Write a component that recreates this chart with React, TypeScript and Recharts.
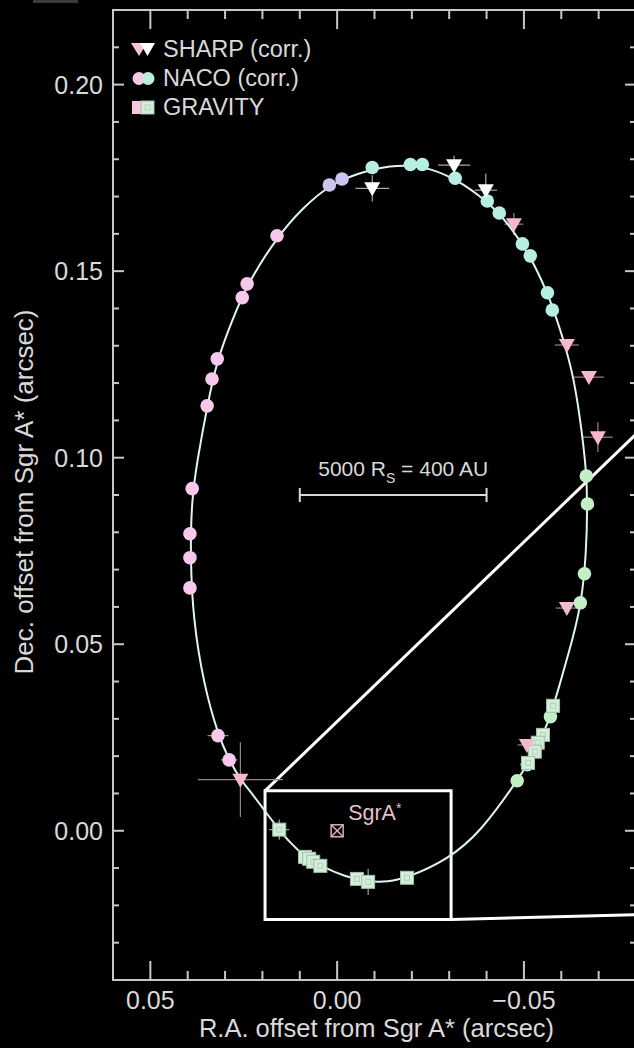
import { ScatterChart, Scatter, XAxis, YAxis, ErrorBar, ReferenceArea, ReferenceLine, ReferenceDot } from 'recharts';

const FONT = '"Liberation Sans", Arial, Helvetica, sans-serif';
const AXIS = '#c8c8c8';
const TEXT = '#d9d9d9';
const ORBIT = '#dff5ef';
const PLOT_W = 523;
const PLOT_H = 970;

// best-fit orbit, read along the drawn ellipse (R.A., Dec. in arcsec)
const orbit = [
  { ra: -0.0187, dec: -0.0126 }, { ra: -0.0136, dec: -0.0137 }, { ra: -0.0083, dec: -0.0137 },
  { ra: -0.0021, dec: -0.0123 }, { ra: 0.0045, dec: -0.0094 }, { ra: 0.0086, dec: -0.007 },
  { ra: 0.0126, dec: -0.0032 }, { ra: 0.0155, dec: 0.0003 }, { ra: 0.019, dec: 0.0048 },
  { ra: 0.0227, dec: 0.0099 }, { ra: 0.0259, dec: 0.0137 }, { ra: 0.0289, dec: 0.019 },
  { ra: 0.0318, dec: 0.0254 }, { ra: 0.0358, dec: 0.0396 }, { ra: 0.0385, dec: 0.0565 },
  { ra: 0.0393, dec: 0.0726 }, { ra: 0.039, dec: 0.0886 }, { ra: 0.0374, dec: 0.0994 },
  { ra: 0.0348, dec: 0.1138 }, { ra: 0.0321, dec: 0.1264 }, { ra: 0.0281, dec: 0.1368 },
  { ra: 0.0241, dec: 0.1465 }, { ra: 0.016, dec: 0.1593 }, { ra: 0.0091, dec: 0.1671 },
  { ra: 0.0021, dec: 0.173 }, { ra: -0.0053, dec: 0.1762 }, { ra: -0.0142, dec: 0.1784 },
  { ra: -0.0227, dec: 0.1784 }, { ra: -0.0316, dec: 0.1749 }, { ra: -0.0402, dec: 0.1688 },
  { ra: -0.0463, dec: 0.1622 }, { ra: -0.0517, dec: 0.1541 }, { ra: -0.0563, dec: 0.1442 },
  { ra: -0.0589, dec: 0.137 }, { ra: -0.063, dec: 0.1236 }, { ra: -0.0651, dec: 0.1102 },
  { ra: -0.0667, dec: 0.0968 }, { ra: -0.067, dec: 0.0876 }, { ra: -0.0667, dec: 0.0745 },
  { ra: -0.0654, dec: 0.0611 }, { ra: -0.063, dec: 0.0512 }, { ra: -0.0597, dec: 0.0397 },
  { ra: -0.0565, dec: 0.0284 }, { ra: -0.0517, dec: 0.019 }, { ra: -0.0482, dec: 0.0134 },
  { ra: -0.0383, dec: -0.0005 }, { ra: -0.0295, dec: -0.0078 },
];

const sharpWhite = [
  { ra: -0.0094, dec: 0.1722, eRa: 0.0045, eDec: 0.0035 },
  { ra: -0.0313, dec: 0.1784, eRa: 0.0043, eDec: 0.0025 },
  { ra: -0.0398, dec: 0.1717, eRa: 0.003, eDec: 0.0045 },
];

const sharpPink = [
  { ra: -0.0473, dec: 0.1626, eRa: 0.0025, eDec: 0.003 },
  { ra: -0.0615, dec: 0.1302, eRa: 0.0032, eDec: 0.001 },
  { ra: -0.0674, dec: 0.1216, eRa: 0.004, eDec: 0.001 },
  { ra: -0.0698, dec: 0.1055, eRa: 0.004, eDec: 0.004 },
  { ra: -0.0615, dec: 0.0597, eRa: 0.003, eDec: 0.001 },
  { ra: -0.0508, dec: 0.023, eRa: 0.0025, eDec: 0.001 },
  { ra: 0.0259, dec: 0.0137, eRa: 0.0114, eDec: 0.01 },
];

const nacoPink = [
  { ra: 0.0319, dec: 0.0255, eRa: 0.0028 }, { ra: 0.0289, dec: 0.019, eRa: 0.0022 },
  { ra: 0.0394, dec: 0.0651, eRa: 0 }, { ra: 0.0394, dec: 0.0732, eRa: 0 },
  { ra: 0.0394, dec: 0.0796, eRa: 0 }, { ra: 0.0388, dec: 0.0917, eRa: 0 },
  { ra: 0.0348, dec: 0.1139, eRa: 0 }, { ra: 0.0335, dec: 0.1211, eRa: 0 },
  { ra: 0.0321, dec: 0.1265, eRa: 0 }, { ra: 0.0254, dec: 0.1429, eRa: 0 },
  { ra: 0.0241, dec: 0.1466, eRa: 0 }, { ra: 0.0161, dec: 0.1595, eRa: 0 },
];

const nacoLilac = [
  { ra: 0.0021, dec: 0.1731 }, { ra: -0.0013, dec: 0.1747 },
];

const nacoCyan = [
  { ra: -0.0094, dec: 0.1778 }, { ra: -0.0196, dec: 0.1786 }, { ra: -0.0228, dec: 0.1786 },
  { ra: -0.0316, dec: 0.1749 }, { ra: -0.0402, dec: 0.1688 }, { ra: -0.0434, dec: 0.1656 },
  { ra: -0.0496, dec: 0.1573 }, { ra: -0.0517, dec: 0.1541 }, { ra: -0.0563, dec: 0.1442 },
  { ra: -0.0576, dec: 0.1396 },
];

const nacoGreen = [
  { ra: -0.0667, dec: 0.0951 }, { ra: -0.067, dec: 0.0876 }, { ra: -0.0662, dec: 0.0689 },
  { ra: -0.0651, dec: 0.0611 }, { ra: -0.0571, dec: 0.0306 }, { ra: -0.0509, dec: 0.0177 },
  { ra: -0.0482, dec: 0.0134 },
];

const gravity = [
  { ra: 0.0155, dec: 0.0003, eRa: 0.0027, eDec: 0.0027 },
  { ra: 0.0086, dec: -0.007, eRa: 0, eDec: 0 }, { ra: 0.0075, dec: -0.0075, eRa: 0, eDec: 0 },
  { ra: 0.0064, dec: -0.0083, eRa: 0, eDec: 0 }, { ra: 0.0045, dec: -0.0094, eRa: 0, eDec: 0 },
  { ra: -0.0053, dec: -0.0129, eRa: 0, eDec: 0 }, { ra: -0.0083, dec: -0.0137, eRa: 0, eDec: 0.0035 },
  { ra: -0.0187, dec: -0.0126, eRa: 0, eDec: 0 }, { ra: -0.0578, dec: 0.0335, eRa: 0, eDec: 0 },
  { ra: -0.0551, dec: 0.0257, eRa: 0, eDec: 0 }, { ra: -0.0537, dec: 0.0236, eRa: 0, eDec: 0 },
  { ra: -0.0529, dec: 0.0212, eRa: 0, eDec: 0 }, { ra: -0.0511, dec: 0.0182, eRa: 0, eDec: 0 },
];

const sgrA = [{ ra: 0, dec: 0 }];

// inset frame and the two lines leading to the zoom panel
const zoomBox = { ra1: 0.0193, ra2: -0.0305, dec1: -0.0238, dec2: 0.0107 };
const zoomLineTop = [{ ra: 0.0193, dec: 0.0107 }, { ra: -0.08, dec: 0.1063 }];
const zoomLineBottom = [{ ra: -0.0305, dec: -0.0238 }, { ra: -0.08, dec: -0.0225 }];

// 5000 Rs = 400 AU scale bar
const scaleBar = { from: 0.01, to: -0.04, dec: 0.09, cap: 0.0019 };

const xDomain = [-0.08, 0.06];
const yDomain = [-0.04, 0.22];
const xTicks = [0.05, 0.04, 0.03, 0.02, 0.01, 0, -0.01, -0.02, -0.03, -0.04, -0.05, -0.06, -0.07];
const xMajor = [0.05, 0, -0.05];
const yTicks = [-0.03, -0.02, -0.01, 0, 0.01, 0.02, 0.03, 0.04, 0.05, 0.06, 0.07, 0.08, 0.09, 0.1,
  0.11, 0.12, 0.13, 0.14, 0.15, 0.16, 0.17, 0.18, 0.19, 0.2, 0.21];
const yMajor = [0, 0.05, 0.1, 0.15, 0.2];

const isMajor = (list: number[], v: number) => list.some((m) => Math.abs(m - v) < 1e-9);
const fmt = (v: number) => (Math.abs(v) < 1e-9 ? '0.00' : v.toFixed(2).replace('-', '\u2212'));

function XTick({ x, y, payload }: any) {
  const major = isMajor(xMajor, payload.value);
  const len = major ? 19 : 9;
  return (
    <g>
      <line x1={x} x2={x} y1={y} y2={y - len} stroke={AXIS} strokeWidth={2} />
      <line x1={x} x2={x} y1={y - PLOT_H} y2={y - PLOT_H + len} stroke={AXIS} strokeWidth={2} />
      {major && (
        <text x={x} y={y + 29} textAnchor="middle" fill={TEXT} fontSize={25} fontFamily={FONT}>
          {fmt(payload.value)}
        </text>
      )}
    </g>
  );
}

function YTick({ x, y, payload }: any) {
  const major = isMajor(yMajor, payload.value);
  const len = major ? 11 : 6;
  return (
    <g>
      <line x1={x} x2={x + len} y1={y} y2={y} stroke={AXIS} strokeWidth={2} />
      <line x1={x + PLOT_W} x2={x + PLOT_W - len} y1={y} y2={y} stroke={AXIS} strokeWidth={2} />
      {major && (
        <text x={x - 10} y={y + 9} textAnchor="end" fill={TEXT} fontSize={25} fontFamily={FONT}>
          {fmt(payload.value)}
        </text>
      )}
    </g>
  );
}

const Tri = ({ cx, cy, fill }: any) => (
  <polygon points={`${cx - 8},${cy - 6} ${cx + 8},${cy - 6} ${cx},${cy + 8}`} fill={fill} />
);
const Dot = ({ cx, cy, fill }: any) => <circle cx={cx} cy={cy} r={6.8} fill={fill} />;
const Sq = ({ cx, cy }: any) => (
  <g>
    <rect x={cx - 6.5} y={cy - 6.5} width={13} height={13} fill="#d3efd9" stroke="#a3bfaa" strokeWidth={1} />
    <rect x={cx - 2.5} y={cy - 2.5} width={5} height={5} fill="none" stroke="#b6cfbd" strokeWidth={1} />
  </g>
);
const BoxX = ({ cx, cy }: any) => (
  <g stroke="#d7afbb" strokeWidth={1.5} fill="none">
    <rect x={cx - 6} y={cy - 6} width={12} height={12} />
    <line x1={cx - 6} y1={cy - 6} x2={cx + 6} y2={cy + 6} />
    <line x1={cx + 6} y1={cy - 6} x2={cx - 6} y2={cy + 6} />
  </g>
);

function ScaleText({ viewBox }: any) {
  const cx = viewBox.x + viewBox.width / 2;
  const cy = viewBox.y + viewBox.height / 2;
  return (
    <text x={cx + 10} y={cy - 19} textAnchor="middle" fill={TEXT} fontSize={21} fontFamily={FONT}>
      5000 R<tspan fontSize={14} dy={7}>S</tspan>
      <tspan dy={-7}> = 400 AU</tspan>
    </text>
  );
}

function SgrText({ viewBox }: any) {
  const cx = viewBox.x + viewBox.width / 2;
  const cy = viewBox.y + viewBox.height / 2;
  return (
    <text x={cx + 11} y={cy - 11} fill="#e6bfca" fontSize={21.5} fontFamily={FONT}>
      SgrA<tspan fontSize={14} dy={-7}>*</tspan>
    </text>
  );
}

function XTitle({ viewBox }: any) {
  return (
    <text x={viewBox.x + viewBox.width / 2 + 2} y={viewBox.y + 57} textAnchor="middle" fill={TEXT}
      fontSize={25.5} fontFamily={FONT}>
      R.A. offset from Sgr A* (arcsec)
    </text>
  );
}

function YTitle({ viewBox }: any) {
  const x = viewBox.x + 33;
  const y = viewBox.y + viewBox.height / 2 - 3;
  return (
    <text x={x} y={y} transform={`rotate(-90 ${x} ${y})`} textAnchor="middle" fill={TEXT}
      fontSize={26} fontFamily={FONT}>
      Dec. offset from Sgr A* (arcsec)
    </text>
  );
}

function LegendIcon({ kind }: { kind: string }) {
  if (kind === 'tri')
    return (
      <svg width={32} height={29}>
        <polygon points="3,8 19,8 11,21" fill="#f4c4d4" />
        <polygon points="12,8 27,8 19.5,21" fill="#ffffff" />
      </svg>
    );
  if (kind === 'dot')
    return (
      <svg width={32} height={29}>
        <circle cx={11} cy={14.5} r={6.5} fill="#f6c8e4" />
        <circle cx={20} cy={14.5} r={6.5} fill="#bfeed8" />
      </svg>
    );
  return (
    <svg width={32} height={29}>
      <rect x={4} y={8} width={13} height={13} fill="#f6c8e0" />
      <rect x={13} y={8} width={13} height={13} fill="#d3efd9" stroke="#a3bfaa" />
      <rect x={17} y={12} width={5} height={5} fill="none" stroke="#b6cfbd" />
    </svg>
  );
}

const legendRows = [
  { kind: 'tri', label: 'SHARP (corr.)' },
  { kind: 'dot', label: 'NACO (corr.)' },
  { kind: 'sq', label: 'GRAVITY' },
];

export default function App() {
  return (
    <div style={{ position: 'relative', width: 634, height: 1048, overflow: 'hidden', background: '#000' }}>
      <style>{'html,body{margin:0;padding:0;background:#000;overflow:hidden}'}</style>
      <div style={{ position: 'absolute', left: 33, top: 0, width: 45, height: 3, background: '#3a3a3a' }} />
      <ScatterChart width={640} height={1048} margin={{ top: 10, right: 4, bottom: 0, left: 0 }}>
        <XAxis
          type="number"
          dataKey="ra"
          domain={xDomain}
          allowDataOverflow
          reversed
          ticks={xTicks}
          interval={0}
          height={68}
          axisLine={false}
          tickLine={false}
          tickSize={0}
          tickMargin={0}
          tick={<XTick />}
          label={{ content: (p: any) => <XTitle viewBox={p.viewBox} /> }}
        />
        <YAxis
          type="number"
          dataKey="dec"
          domain={yDomain}
          allowDataOverflow
          ticks={yTicks}
          interval={0}
          width={113}
          axisLine={false}
          tickLine={false}
          tickSize={0}
          tickMargin={0}
          tick={<YTick />}
          label={{ content: (p: any) => <YTitle viewBox={p.viewBox} /> }}
        />
        <ReferenceArea x1={0.06} x2={-0.08} y1={-0.04} y2={0.22} fill="none" stroke={AXIS} strokeWidth={2}
          ifOverflow="visible" />
        <Scatter data={orbit} line={{ stroke: ORBIT, strokeWidth: 2 }} lineJointType="basisClosed"
          shape={() => <g />} isAnimationActive={false} />
        <ReferenceArea x1={zoomBox.ra1} x2={zoomBox.ra2} y1={zoomBox.dec1} y2={zoomBox.dec2} fill="none"
          fillOpacity={0} stroke="#ffffff" strokeWidth={3} ifOverflow="visible" />
        <ReferenceLine segment={[{ x: zoomLineTop[0].ra, y: zoomLineTop[0].dec }, { x: zoomLineTop[1].ra, y: zoomLineTop[1].dec }]}
          stroke="#ffffff" strokeWidth={3} ifOverflow="visible" />
        <ReferenceLine segment={[{ x: zoomLineBottom[0].ra, y: zoomLineBottom[0].dec }, { x: zoomLineBottom[1].ra, y: zoomLineBottom[1].dec }]}
          stroke="#ffffff" strokeWidth={3} ifOverflow="visible" />
        <ReferenceLine segment={[{ x: scaleBar.from, y: scaleBar.dec }, { x: scaleBar.to, y: scaleBar.dec }]}
          stroke={TEXT} strokeWidth={2} ifOverflow="visible" />
        <ReferenceLine segment={[{ x: scaleBar.from, y: scaleBar.dec - scaleBar.cap }, { x: scaleBar.from, y: scaleBar.dec + scaleBar.cap }]}
          stroke={TEXT} strokeWidth={2} ifOverflow="visible" />
        <ReferenceLine segment={[{ x: scaleBar.to, y: scaleBar.dec - scaleBar.cap }, { x: scaleBar.to, y: scaleBar.dec + scaleBar.cap }]}
          stroke={TEXT} strokeWidth={2} ifOverflow="visible" />
        <ReferenceDot x={(scaleBar.from + scaleBar.to) / 2} y={scaleBar.dec} r={1} fill="none" stroke="none"
          ifOverflow="visible" label={{ content: (p: any) => <ScaleText viewBox={p.viewBox} /> }} />
        <Scatter data={nacoPink} shape={(p: any) => <Dot {...p} fill="#f6c8ec" />} isAnimationActive={false}>
          <ErrorBar dataKey="eRa" direction="x" width={0} stroke="#a88ea0" strokeWidth={1.2} isAnimationActive={false} />
        </Scatter>
        <Scatter data={nacoLilac} shape={(p: any) => <Dot {...p} fill="#cbc5f2" />} isAnimationActive={false} />
        <Scatter data={nacoCyan} shape={(p: any) => <Dot {...p} fill="#b6efe2" />} isAnimationActive={false} />
        <Scatter data={nacoGreen} shape={(p: any) => <Dot {...p} fill="#c4efc6" />} isAnimationActive={false} />
        <Scatter data={gravity} shape={(p: any) => <Sq {...p} />} isAnimationActive={false}>
          <ErrorBar dataKey="eRa" direction="x" width={0} stroke="#9aa89e" strokeWidth={1.2} isAnimationActive={false} />
          <ErrorBar dataKey="eDec" direction="y" width={0} stroke="#9aa89e" strokeWidth={1.2} isAnimationActive={false} />
        </Scatter>
        <Scatter data={sharpWhite} shape={(p: any) => <Tri {...p} fill="#ffffff" />} isAnimationActive={false}>
          <ErrorBar dataKey="eRa" direction="x" width={0} stroke="#a9a9a9" strokeWidth={1.2} isAnimationActive={false} />
          <ErrorBar dataKey="eDec" direction="y" width={0} stroke="#a9a9a9" strokeWidth={1.2} isAnimationActive={false} />
        </Scatter>
        <Scatter data={sharpPink} shape={(p: any) => <Tri {...p} fill="#f4b9cf" />} isAnimationActive={false}>
          <ErrorBar dataKey="eRa" direction="x" width={0} stroke="#9d8088" strokeWidth={1.2} isAnimationActive={false} />
          <ErrorBar dataKey="eDec" direction="y" width={0} stroke="#9d8088" strokeWidth={1.2} isAnimationActive={false} />
        </Scatter>
        <Scatter data={sgrA} shape={(p: any) => <BoxX {...p} />} isAnimationActive={false} />
        <ReferenceDot x={sgrA[0].ra} y={sgrA[0].dec} r={1} fill="none" stroke="none" ifOverflow="visible"
          label={{ content: (p: any) => <SgrText viewBox={p.viewBox} /> }} />
      </ScatterChart>
      <div style={{ position: 'absolute', left: 128, top: 35, fontFamily: FONT, fontSize: 23.5, color: TEXT }}>
        {legendRows.map((r) => (
          <div key={r.label} style={{ height: 29, lineHeight: '29px', display: 'flex', alignItems: 'center' }}>
            <LegendIcon kind={r.kind} />
            <span style={{ marginLeft: 3 }}>{r.label}</span>
          </div>
        ))}
      </div>
    </div>
  );
}
